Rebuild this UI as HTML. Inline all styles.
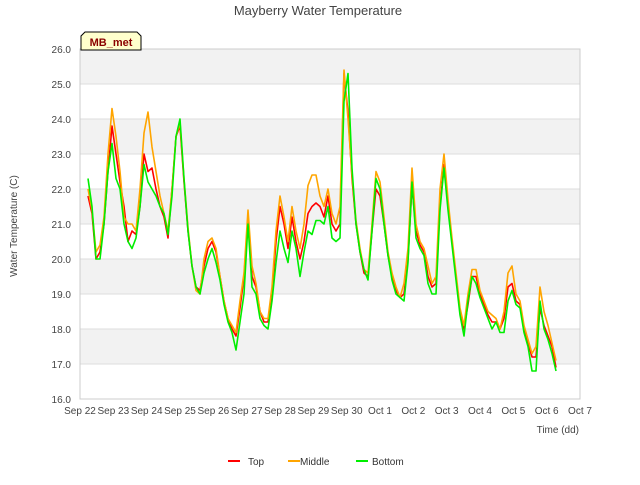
<!DOCTYPE html>
<html><head><meta charset="utf-8"><style>
body{margin:0;background:#fff;font-family:"Liberation Sans",sans-serif;}
svg text{font-family:"Liberation Sans","DejaVu Sans",sans-serif;}
</style></head><body>
<svg id="chart" width="640" height="480" xmlns="http://www.w3.org/2000/svg">
<text x="318" y="15" text-anchor="middle" font-size="13" fill="#444">Mayberry Water Temperature</text>
<g id="plot"></g>
<text transform="translate(17,226) rotate(-90)" text-anchor="middle" font-size="10" fill="#444">Water Temperature (C)</text>
<text x="579" y="433" text-anchor="end" font-size="10" fill="#444">Time (dd)</text>
<g>
<path d="M81,50 L81,36 L85,32 L137,32 L141,36 L141,50 Z" fill="#ffffcc" stroke="#000" stroke-width="1"/>
<text x="111" y="46" text-anchor="middle" font-size="11" font-weight="bold" fill="#8b0000">MB_met</text>
</g>
<g>
<g><line x1="228" y1="461" x2="240" y2="461" stroke="#ff0000" stroke-width="2"/><text x="248" y="465" font-size="10" fill="#333">Top</text></g>
<g><line x1="288" y1="461" x2="300" y2="461" stroke="#ffa500" stroke-width="2"/><text x="300" y="465" font-size="10" fill="#333">Middle</text></g>
<g><line x1="356" y1="461" x2="368" y2="461" stroke="#00ee00" stroke-width="2"/><text x="372" y="465" font-size="10" fill="#333">Bottom</text></g>
</g>
</svg>
<script>
const xTickLabels=["Sep 22","Sep 23","Sep 24","Sep 25","Sep 26","Sep 27","Sep 28","Sep 29","Sep 30","Oct 1","Oct 2","Oct 3","Oct 4","Oct 5","Oct 6","Oct 7"];
const yTicks=[16,17,18,19,20,21,22,23,24,25,26];
const startDay=0.24, stepDays=0.12;
const topVals=[21.8,21.3,20.0,20.2,21.0,22.5,23.8,23.0,22.2,21.5,20.5,20.8,20.7,21.5,23.0,22.5,22.6,22.0,21.5,21.2,20.6,22.0,23.5,23.8,22.2,20.8,19.8,19.2,19.1,19.8,20.3,20.5,20.2,19.5,18.8,18.3,18.0,17.8,18.6,19.5,21.2,19.5,19.2,18.5,18.2,18.2,19.0,20.5,21.5,21.0,20.3,21.2,20.5,20.0,20.5,21.3,21.5,21.6,21.5,21.2,21.8,21.0,20.8,21.0,25.3,24.2,22.3,21.0,20.2,19.6,19.5,20.8,22.0,21.8,21.0,20.1,19.5,19.1,18.9,19.0,20.0,22.1,20.8,20.4,20.2,19.5,19.2,19.3,21.5,22.7,21.5,20.5,19.5,18.5,18.0,18.7,19.5,19.5,19.0,18.7,18.4,18.2,18.2,18.0,18.3,19.2,19.3,18.8,18.7,18.0,17.6,17.2,17.2,18.6,18.1,17.8,17.5,16.9];
const middleVals=[22.0,21.4,20.2,20.4,21.2,23.0,24.3,23.5,22.5,21.2,21.0,21.0,20.8,22.0,23.6,24.2,23.2,22.5,21.8,21.3,20.8,22.0,23.5,23.9,22.3,20.9,19.8,19.1,19.0,20.0,20.5,20.6,20.3,19.5,18.8,18.3,18.1,17.9,18.8,19.6,21.4,19.8,19.3,18.5,18.3,18.3,19.2,20.8,21.8,21.2,20.5,21.5,20.8,20.3,21.0,22.1,22.4,22.4,21.8,21.5,22.0,21.3,21.0,21.5,25.4,24.0,22.4,21.1,20.3,19.7,19.6,21.0,22.5,22.2,21.2,20.2,19.6,19.2,18.9,19.3,20.3,22.6,21.0,20.5,20.3,19.8,19.3,19.5,22.0,23.0,21.7,20.6,19.6,18.6,18.1,19.0,19.7,19.7,19.1,18.8,18.5,18.4,18.3,18.0,18.5,19.6,19.8,19.0,18.8,18.1,17.7,17.3,17.5,19.2,18.5,18.1,17.6,17.1];
const bottomVals=[22.3,21.5,20.0,20.0,21.0,22.5,23.3,22.3,22.0,21.0,20.5,20.3,20.6,21.5,22.7,22.2,22.0,21.8,21.5,21.3,20.7,21.8,23.5,24.0,22.3,20.8,19.8,19.2,19.0,19.6,20.0,20.3,19.9,19.4,18.7,18.2,17.9,17.4,18.2,19.0,21.0,19.2,19.0,18.3,18.1,18.0,18.8,19.9,20.8,20.3,19.9,20.8,20.3,19.5,20.2,20.8,20.7,21.1,21.1,21.0,21.5,20.6,20.5,20.6,24.5,25.3,22.6,21.0,20.2,19.7,19.4,20.8,22.3,22.0,21.0,20.1,19.4,19.0,18.9,18.8,19.9,22.2,20.6,20.3,20.1,19.3,19.0,19.0,21.4,22.6,21.4,20.4,19.4,18.4,17.8,18.8,19.5,19.3,18.9,18.6,18.3,18.0,18.2,17.9,17.9,18.8,19.1,18.7,18.6,17.9,17.5,16.8,16.8,18.8,18.0,17.7,17.3,16.8];

const NS="http://www.w3.org/2000/svg";
const L=80,R=580,T=49,B=399;
const xS=d=>L+(R-L)*d/15;
const yS=v=>B-(B-T)*(v-16)/10;
const plot=document.getElementById('plot');
function mk(tag,attrs){const e=document.createElementNS(NS,tag);for(const k in attrs)e.setAttribute(k,attrs[k]);return e;}
const bg=mk('rect',{x:L,y:T,width:R-L,height:B-T,fill:'#fff',stroke:'#ccc'});


plot.appendChild(bg);
for(let i=0;i<yTicks.length-1;i++){
  if(yTicks[i]%2===1){
    const band=mk('rect',{x:L,y:yS(yTicks[i]+1),width:R-L,height:yS(yTicks[i])-yS(yTicks[i]+1),fill:'#f2f2f2'});
    
    
    plot.appendChild(band);
  }
}
yTicks.forEach(v=>{
  const g=mk('line',{x1:L,x2:R,y1:yS(v),y2:yS(v),stroke:'#ddd'});
  
  
  plot.appendChild(g);
  const t=mk('text',{x:L-9,y:yS(v)+4,'text-anchor':'end','font-size':10,fill:'#444'});
  t.textContent=v.toFixed(1);
  
  
  plot.appendChild(t);
});
xTickLabels.forEach((s,i)=>{
  const t=mk('text',{x:xS(i),y:414,'text-anchor':'middle','font-size':10,fill:'#444'});
  t.textContent=s;
  
  
  plot.appendChild(t);
});
const fr=mk('rect',{x:L,y:T,width:R-L,height:B-T,fill:'none',stroke:'#ccc'});


plot.appendChild(fr);
function series(vals,color,name){
  const d=vals.map((v,i)=>(i?'L':'M')+xS(startDay+i*stepDays).toFixed(1)+','+yS(v).toFixed(1)).join(' ');
  const p=mk('path',{d:d,fill:'none',stroke:color,'stroke-width':1.6,'stroke-linejoin':'round'});
  
  
  plot.appendChild(p);
}
series(topVals,'#ff0000','series-top');
series(middleVals,'#ffa500','series-middle');
series(bottomVals,'#00ee00','series-bottom');
</script>
</body></html>
